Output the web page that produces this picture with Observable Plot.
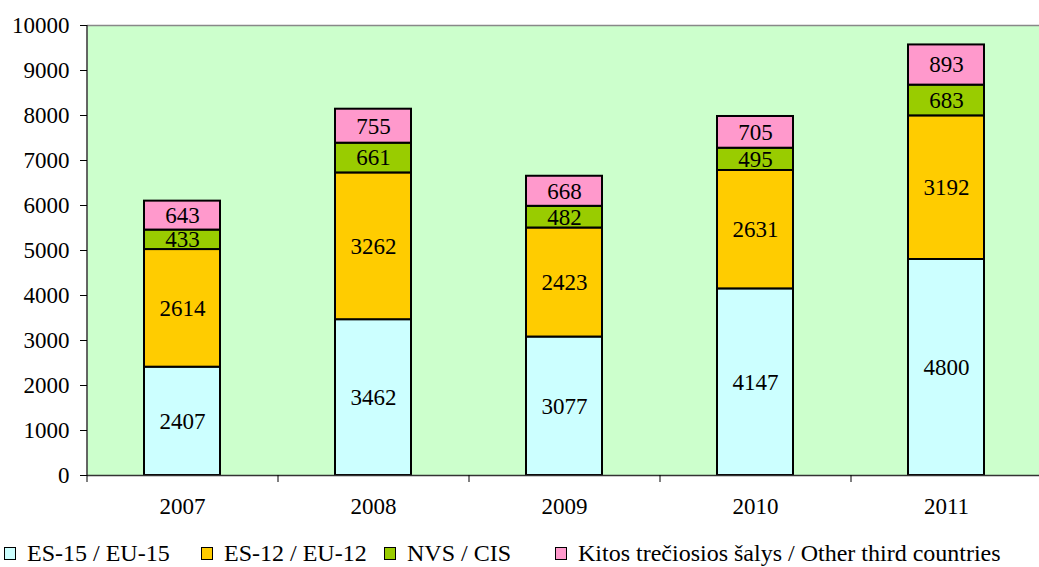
<!DOCTYPE html>
<html>
<head>
<meta charset="utf-8">
<script src="https://cdn.jsdelivr.net/npm/d3@7"></script>
<script src="https://cdn.jsdelivr.net/npm/@observablehq/plot@0.6"></script>
<style>
  html, body { margin: 0; padding: 0; background: #fff; overflow: hidden; font-family: 'Liberation Serif', serif; }
  #wrap { width: 1039px; height: 567px; position: relative; overflow: hidden; font-family: 'Liberation Serif', serif; }
  #legend { position: absolute; left: 0; top: 538px; width: 1039px; height: 30px; font-size: 24px; white-space: nowrap; font-family: 'Liberation Serif', serif; }
  .item { position: absolute; top: 0; height: 30px; }
  .sw { position: absolute; top: 9px; left: 0; width: 10px; height: 11px; border: 1.5px solid #000; }
  .lt { position: absolute; top: 0; left: 23px; line-height: 30px; }
</style>
</head>
<body>
<div id="wrap"><div id="chart"></div><div id="legend"></div></div>
<script>
const years = ["2007", "2008", "2009", "2010", "2011"];
const seriesNames = ["ES-15 / EU-15", "ES-12 / EU-12", "NVS / CIS", "Kitos trečiosios šalys / Other third countries"];
const seriesColors = ["#ccffff", "#ffcc00", "#99cc00", "#ff99cc"];
const eu15 = [2407, 3462, 3077, 4147, 4800];
const eu12 = [2614, 3262, 2423, 2631, 3192];
const cis = [433, 661, 482, 495, 683];
const other = [643, 755, 668, 705, 893];
const yTicks = [0, 1000, 2000, 3000, 4000, 5000, 6000, 7000, 8000, 9000, 10000];
const legendLeft = [4, 201, 384, 555];

const seriesValues = [eu15, eu12, cis, other];
const data = [];
seriesNames.forEach((s, si) => {
  years.forEach((y, yi) => data.push({year: y, series: s, value: seriesValues[si][yi]}));
});

const FF = "Liberation Serif";

const chart = Plot.plot({
  width: 1039,
  height: 530,
  marginLeft: 87,
  marginRight: 0,
  marginTop: 25,
  marginBottom: 55,
  style: {fontFamily: "'Liberation Serif', serif", fontSize: "23px", background: "transparent", color: "#000"},
  x: {domain: years, range: [87, 1042], paddingInner: 0.6, paddingOuter: 0.3, label: null},
  y: {domain: [0, 10000], label: null},
  color: {domain: seriesNames, range: seriesColors},
  marks: [
    Plot.frame({fill: "#ccffcc", stroke: null}),
    Plot.ruleY([10000], {stroke: "#888", strokeWidth: 1.5}),
    Plot.barY(data, {x: "year", y: "value", fill: "series", stroke: "#000", strokeWidth: 2}),
    Plot.text(data, Plot.stackY({x: "year", y: "value", text: d => String(d.value), fontSize: 23, fontFamily: FF, fill: "#000"})),
    Plot.ruleY([0], {stroke: "#333", strokeWidth: 1.5}),
    Plot.ruleX([years[0]], {dx: -95.5, y1: 0, y2: 10000, stroke: "#333", strokeWidth: 1.5}),
    Plot.axisY({ticks: yTicks, tickSize: 7, tickPadding: 11, tickFormat: d => String(d), fontSize: 23, fontFamily: FF, label: null}),
    Plot.axisX({tickSize: 7, dx: -95.5, tickFormat: () => "", label: null}),
    Plot.axisX({tickSize: 0, tickPadding: 22, fontSize: 23, fontFamily: FF, label: null})
  ]
});
document.getElementById("chart").appendChild(chart);

const legend = document.getElementById("legend");
seriesNames.forEach((s, i) => {
  const item = document.createElement("div");
  item.className = "item";
  item.style.left = legendLeft[i] + "px";
  const sw = document.createElement("div");
  sw.className = "sw";
  sw.style.background = seriesColors[i];
  const t = document.createElement("span");
  t.className = "lt";
  t.textContent = s;
  item.appendChild(sw);
  item.appendChild(t);
  legend.appendChild(item);
});
</script>
</body>
</html>
